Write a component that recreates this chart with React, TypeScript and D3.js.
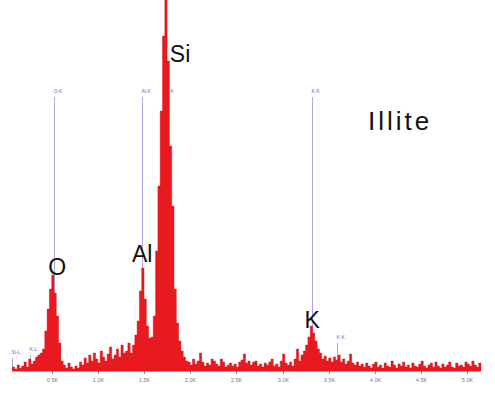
import { useEffect, useRef } from 'react'
import * as d3 from 'd3'

// spectrum channels: energy (keV) of first channel and channel width
const START_KEV = 0.075
const STEP_KEV = 0.025

// counts, one per channel
const counts = [
  4, 2, 6, 3, 5, 9, 4, 12, 7, 10, 14, 16, 18,
  22, 40, 62, 82, 96, 78, 55, 28, 10,
  6, 3, 8, 4, 2, 5, 3, 9, 6, 13, 8, 16,
  10, 18, 12, 8, 20, 14, 10, 17, 24, 12, 16, 22, 14, 26, 18, 20, 28, 18, 26, 36,
  50, 80, 103, 72, 45, 33, 34, 55,
  120, 185, 260, 335, 372, 310, 225, 165, 82, 48,
  30, 20, 14, 10, 9, 6, 12,
  7, 10, 18, 9, 5, 8, 6, 12, 10, 7, 5, 12, 9, 4, 6, 8, 5, 7, 4, 9, 11, 17, 8, 10,
  6, 9, 10, 5, 7, 4, 8, 6, 9, 12, 5, 7, 4, 10, 17, 8, 6, 9, 5, 12, 22, 10, 16,
  20, 26, 34, 45, 38, 30, 22, 18, 12, 15, 10, 13, 9, 14, 11, 16, 9, 12, 7, 10, 17, 8, 6, 9, 5, 7,
  4, 8, 5, 3, 7, 9, 4, 6, 3, 8, 5, 4, 10, 6, 3, 7, 5, 9, 4, 6, 3, 8, 5, 4, 7, 10,
  5, 3, 6, 8, 4, 9, 5, 3, 7, 4, 6, 9, 4, 3, 8, 5, 6, 4, 9, 7, 5, 10, 6, 4, 8,
]

const tickValues = [0.5, 1.0, 1.5, 2.0, 2.5, 3.0, 3.5, 4.0, 4.5, 5.0]
const tickLabels = ['0.5K', '1.0K', '1.5K', '2.0K', '2.5K', '3.0K', '3.5K', '4.0K', '4.5K', '5.0K']

// element marker lines (energy, top of line in count units)
const markerNames = ['O-K', 'Al-K', 'Si-K', 'K-K', 'K-K', 'Si-L', 'K-L']
const markerEnergy = [0.525, 1.481, 1.727, 3.32, 3.587, 0.07, 0.26]
const markerTop = [274, 274, 274, 274, 28, 13, 16]

// big element labels (anchor energy / count)
const peakNames = ['O', 'Al', 'Si', 'K']
const peakEnergy = [0.56, 1.48, 1.78, 3.32]
const peakCount = [96, 109, 309, 43]
const peakAnchor = ['middle', 'middle', 'start', 'middle']

export default function App() {
  const svgRef = useRef<SVGSVGElement>(null)

  useEffect(() => {
    if (!svgRef.current) return
    const W = 495
    const H = 393

    const svg = d3.select(svgRef.current)
    svg.selectAll('*').remove()
    svg.attr('width', W).attr('height', H).attr('viewBox', `0 0 ${W} ${H}`)

    svg.append('rect').attr('width', W).attr('height', H).attr('fill', '#fff')

    const x = d3.scaleLinear().domain([0.07, 5.15]).range([12, 481])
    const y = d3.scaleLinear().domain([0, 370]).range([371, 1])

    const font = 'Liberation Sans, Arial, sans-serif'

    // marker lines + small labels (behind the spectrum)
    const markers = svg.append('g')
    markerNames.forEach((name, i) => {
      const mx = Math.round(x(markerEnergy[i])) + 0.5
      markers.append('line')
        .attr('x1', mx).attr('x2', mx)
        .attr('y1', y(markerTop[i])).attr('y2', y(0))
        .attr('stroke', '#b9a3df')
        .attr('stroke-width', 1)
      markers.append('text')
        .attr('x', mx - 1)
        .attr('y', y(markerTop[i]) - 4)
        .attr('font-family', font)
        .attr('font-size', 5)
        .attr('fill', '#7d62c8')
        .text(name)
    })

    // spectrum
    const pts = counts.map((c, i) => ({ e: START_KEV + i * STEP_KEV, c }))
    pts.push({ e: START_KEV + counts.length * STEP_KEV, c: counts[counts.length - 1] })
    const area = d3.area<{ e: number; c: number }>()
      .x((d) => x(d.e))
      .y0(y(0))
      .y1((d) => y(d.c))
      .curve(d3.curveStepAfter)
    svg.append('path')
      .datum(pts)
      .attr('d', area)
      .attr('fill', '#e81a1f')
      .attr('stroke', '#d8121a')
      .attr('stroke-width', 0.4)

    // axis
    const axis = svg.append('g')
    axis.append('line')
      .attr('x1', x(0.07)).attr('x2', x(5.15))
      .attr('y1', y(0) + 0.5).attr('y2', y(0) + 0.5)
      .attr('stroke', '#9db6d3')
      .attr('stroke-width', 1)
    tickValues.forEach((t, i) => {
      const tx = Math.round(x(t)) + 0.5
      axis.append('line')
        .attr('x1', tx).attr('x2', tx)
        .attr('y1', y(0)).attr('y2', y(0) + 3)
        .attr('stroke', '#4d8fc4')
      axis.append('text')
        .attr('x', tx)
        .attr('y', y(0) + 11)
        .attr('text-anchor', 'middle')
        .attr('font-family', font)
        .attr('font-size', 5.5)
        .attr('fill', '#6f7b8e')
        .text(tickLabels[i])
    })

    // element labels
    peakNames.forEach((name, i) => {
      svg.append('text')
        .attr('x', x(peakEnergy[i]))
        .attr('y', y(peakCount[i]))
        .attr('text-anchor', peakAnchor[i])
        .attr('font-family', font)
        .attr('font-size', 23)
        .attr('fill', '#111')
        .text(name)
    })

    svg.append('text')
      .attr('x', 368)
      .attr('y', 130)
      .attr('font-family', font)
      .attr('font-size', 26)
      .attr('letter-spacing', 3)
      .attr('fill', '#111')
      .text('Illite')
  }, [])

  return <svg ref={svgRef} style={{ position: 'absolute', left: 0, top: 0 }} />
}
